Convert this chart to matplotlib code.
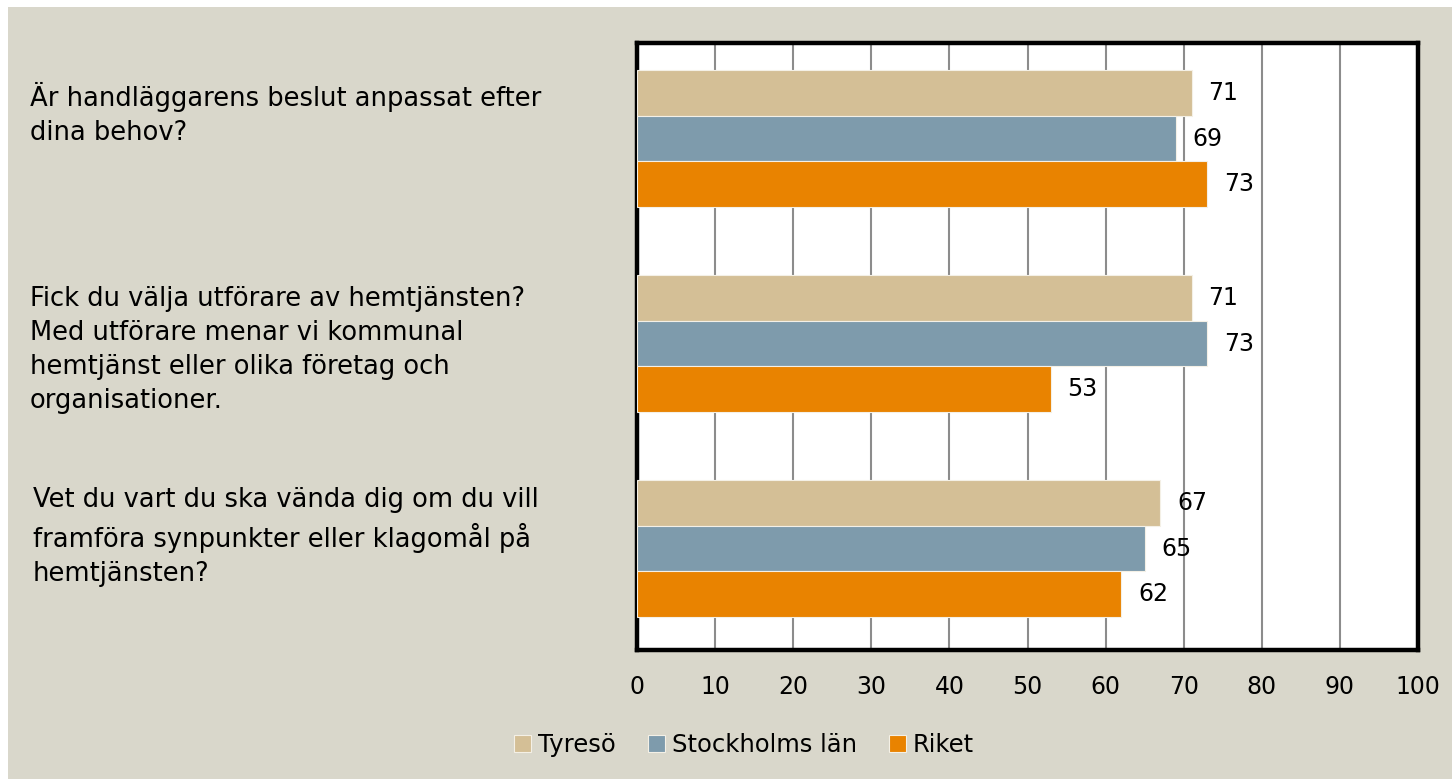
import numpy as np
import matplotlib as mpl
import matplotlib.pyplot as plt
from matplotlib.patches import Rectangle

questions = [
    "Är handläggarens beslut anpassat efter\ndina behov?",
    "Fick du välja utförare av hemtjänsten?\nMed utförare menar vi kommunal\nhemtjänst eller olika företag och\norganisationer.",
    "Vet du vart du ska vända dig om du vill\nframföra synpunkter eller klagomål på\nhemtjänsten?",
]
series_names = ["Tyresö", "Stockholms län", "Riket"]
tyreso = [71, 71, 67]
stockholm = [69, 73, 65]
riket = [73, 53, 62]
x_ticks = [0, 10, 20, 30, 40, 50, 60, 70, 80, 90, 100]

colors = ["#D4BF96", "#7E9BAC", "#E98300"]
bg = "#D9D7CB"

mpl.rcParams["font.family"] = ["DejaVu Sans"]
mpl.rcParams["font.size"] = 16

fig = plt.figure(figsize=(14.52, 7.79), dpi=100)
fig.patch.set_facecolor("white")
fig.patches.append(Rectangle((8 / 1452, 0), 1, 1 - 7 / 779, transform=fig.transFigure,
                             facecolor=bg, edgecolor="none", zorder=-10))

ax = fig.add_axes([637 / 1452, 1 - 650 / 779, 781 / 1452, 607 / 779])
ax.set_facecolor("white")

y = np.arange(len(questions))
h = 0.222
offsets = [-h, 0, h]
for vals, off, col, name in zip([tyreso, stockholm, riket], offsets, colors, series_names):
    bars = ax.barh(y + off, vals, height=h, color=col, edgecolor="#F4F0E6",
                   linewidth=0.8, label=name, zorder=3)
    for b, v in zip(bars, vals):
        ax.annotate(str(v), (v, b.get_y() + b.get_height() / 2), xytext=(12, 0),
                    textcoords="offset points", ha="left", va="center",
                    fontsize=17, zorder=4)

ax.set_xlim(0, 100)
ax.set_ylim(2.495, -0.466)
ax.set_xticks(x_ticks)
ax.set_yticks([])
ax.tick_params(axis="x", length=0, pad=18, labelsize=17)
ax.grid(axis="x", color="#8C8C8C", linewidth=1.5, zorder=1)
for s in ax.spines.values():
    s.set_linewidth(3.2)
    s.set_color("black")

# question labels on the left
label_pos = [(30, 82), (30, 286), (33, 487)]
for q, (px, py) in zip(questions, label_pos):
    fig.text(px / 1452, 1 - py / 779, q, ha="left", va="top", fontsize=18.5,
             linespacing=1.4)

fig.legend(loc="center", bbox_to_anchor=(744 / 1452, 1 - 745 / 779), ncol=3,
           frameon=False, handlelength=0.7, handleheight=0.7, handletextpad=0.3,
           columnspacing=1.3, fontsize=17.5)

plt.savefig("out.png", dpi=100, facecolor=fig.get_facecolor())
plt.close()
